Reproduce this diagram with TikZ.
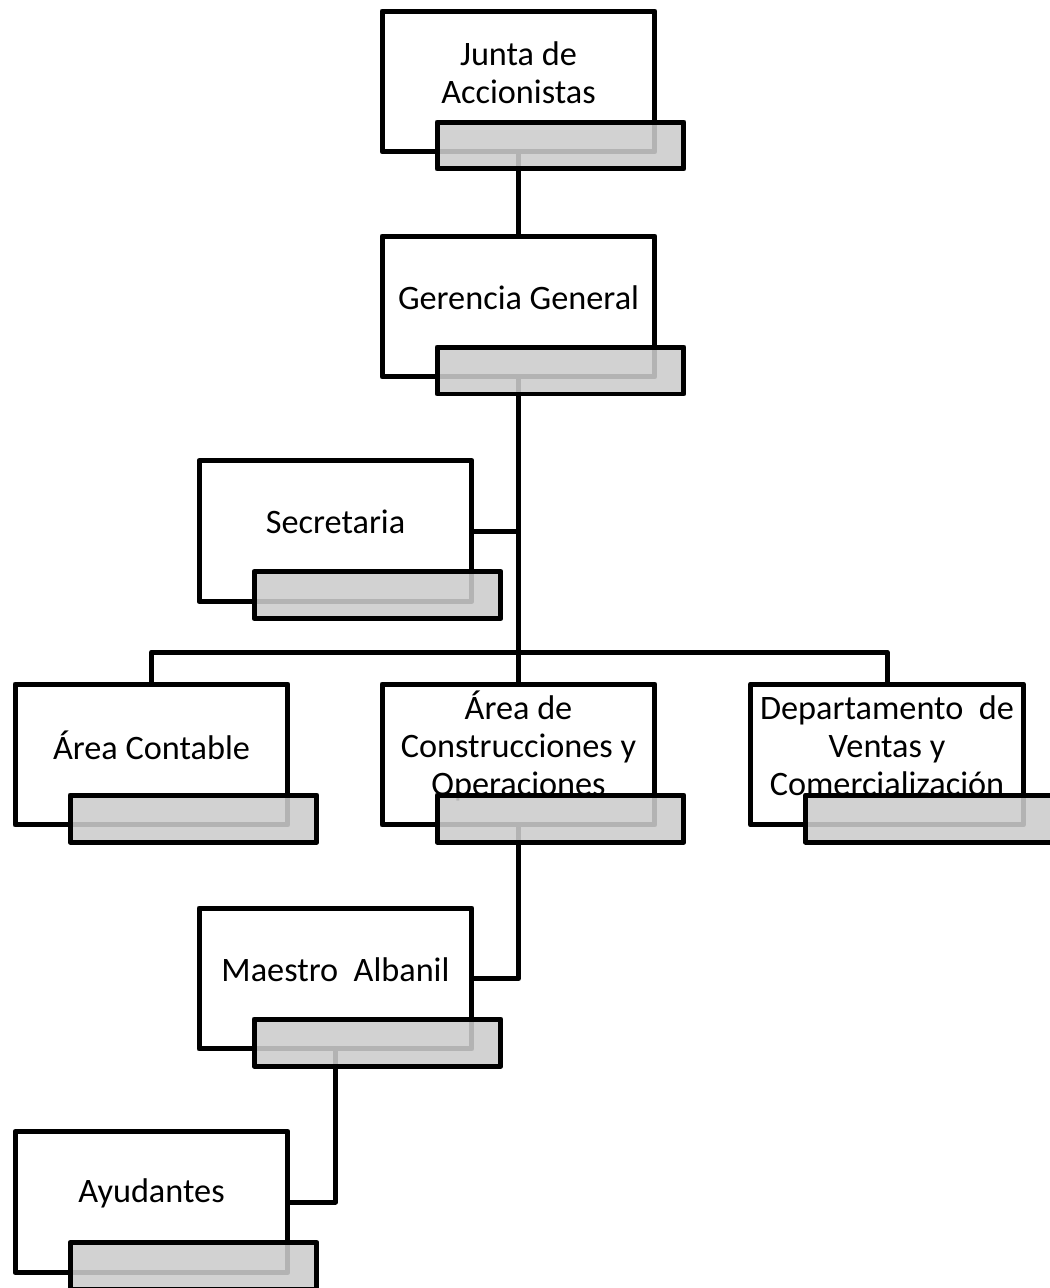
\documentclass[tikz,border=0pt]{standalone}
\usepackage{fontspec}
\setmainfont{Carlito}
\usetikzlibrary{backgrounds}
\begin{document}
\begin{tikzpicture}[x=0.02cm, y=-0.02cm,
    box/.style={draw, line width=0.1cm, line join=round, fill=white, minimum width=5.46cm, minimum height=2.82cm, inner sep=0pt},
    tab/.style={draw, line width=0.1cm, line join=round, fill=black!20, fill opacity=0.88, minimum width=4.94cm, minimum height=0.94cm, inner sep=0pt},
    txt/.style={align=center, font=\fontsize{19.5}{21.6}\selectfont},
    link/.style={line width=0.1cm, line join=round}]
  \useasboundingbox (0,0) rectangle (1050,1288);

  % Junta de Accionistas
  \node[box] (junta) at (518.5,81.5) {};
  \node[txt] (juntaT) at (518.5,73) {Junta de\\Accionistas};
  \node[tab] (juntaTab) at (560.5,145.5) {};

  % Gerencia General
  \node[box] (gerencia) at (518.5,306.5) {};
  \node[txt] (gerenciaT) at (518.5,297.5) {Gerencia General};
  \node[tab] (gerenciaTab) at (560.5,370.5) {};

  % Secretaria
  \node[box] (secretaria) at (335.5,531) {};
  \node[txt] (secretariaT) at (335.5,522) {Secretaria};
  \node[tab] (secretariaTab) at (377.5,595) {};

  % Areas
  \node[box] (contable) at (151.5,754.5) {};
  \node[txt] (contableT) at (151.5,745.5) {Área Contable};
  \node[tab] (contableTab) at (193.5,818.5) {};

  \node[box] (constr) at (518.5,754.5) {};
  \node[txt] (constrT) at (518.5,745.5) {Área de\\Construcciones y\\Operaciones};
  \node[tab] (constrTab) at (560.5,818.5) {};

  \node[box] (depto) at (887,754.5) {};
  \node[txt] (deptoT) at (887,745.5) {Departamento\ \ de\\Ventas y\\Comercialización};
  \node[tab] (deptoTab) at (929,818.5) {};

  % Maestro Albanil
  \node[box] (maestro) at (335.5,978.5) {};
  \node[txt] (maestroT) at (335.5,969.5) {Maestro\ \ Albanil};
  \node[tab] (maestroTab) at (377.5,1042.5) {};

  % Ayudantes
  \node[box] (ayudantes) at (151.5,1202) {};
  \node[txt] (ayudantesT) at (151.5,1193) {Ayudantes};
  \node[tab] (ayudantesTab) at (193.5,1266) {};

  % Connections
  \begin{scope}[on background layer]
    \coordinate (bus) at (518.5,652);
    \coordinate (secJoin) at (518.5,531);
    \draw[link] (junta.south) -- (gerencia.north);
    \draw[link] (gerencia.south) -- (bus);
    \draw[link] (secretaria.east) -- (secJoin);
    \draw[link] (contable.north) |- (bus) -| (depto.north);
    \draw[link] (bus) -- (constr.north);
    \draw[link] (constr.south) |- (maestro.east);
    \draw[link] (maestro.south) |- (ayudantes.east);
  \end{scope}
\end{tikzpicture}
\end{document}
